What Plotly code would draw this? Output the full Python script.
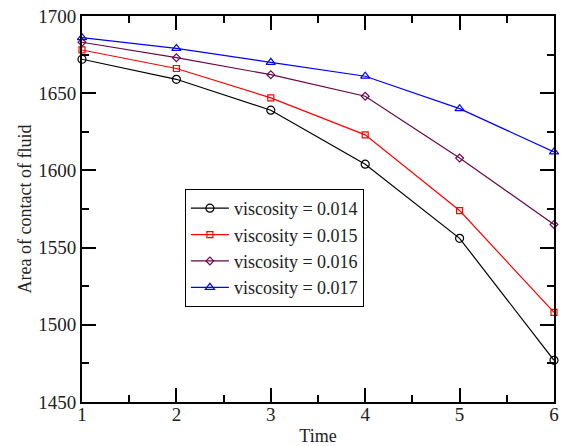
import plotly.graph_objects as go

time = [1, 2, 3, 4, 5, 6]
v014 = [1672, 1659, 1639, 1604, 1556, 1477]
v015 = [1678, 1666, 1647, 1623, 1574, 1508]
v016 = [1683, 1673, 1662, 1648, 1608, 1565]
v017 = [1686, 1679, 1670, 1661, 1640, 1612]
labels = ["viscosity = 0.014", "viscosity = 0.015", "viscosity = 0.016", "viscosity = 0.017"]

series = [
    (v014, "#000000", "circle-open", 8),
    (v015, "#ff0000", "square-open", 6),
    (v016, "#670748", "diamond-open", 6),
    (v017, "#0000ff", "triangle-up-open", 8),
]

fig = go.Figure()
for (vals, color, sym, size), name in zip(series, labels):
    fig.add_trace(go.Scatter(
        x=time, y=vals, name=name, mode="lines+markers",
        line=dict(color=color, width=1.2),
        marker=dict(symbol=sym, size=size, color=color, line=dict(color=color, width=1.2)),
        cliponaxis=False,
    ))

font = "Liberation Serif, Times New Roman, serif"
axis_common = dict(
    showline=True, linecolor="black", linewidth=2, mirror="ticks",
    ticks="inside", ticklen=14, tickwidth=1.5, tickcolor="black",
    showgrid=False, zeroline=False, automargin=False,
    tickfont=dict(family=font, size=19, color="#222"),
)
fig.update_xaxes(range=[1, 6], dtick=1, title=dict(text="Time", font=dict(family=font, size=18, color="#222"), standoff=7),
                 minor=dict(ticks="inside", ticklen=7, tickwidth=1.5, tickcolor="black", dtick=0.5),
                 ticklabelstandoff=-6,
                 **axis_common)
fig.update_yaxes(range=[1450, 1700], dtick=50, title=dict(text="Area of contact of fluid", font=dict(family=font, size=18, color="#222"), standoff=2),
                 minor=dict(ticks="inside", ticklen=7, tickwidth=1.5, tickcolor="black", dtick=25),
                 **axis_common)
fig.update_layout(
    width=564, height=446,
    margin=dict(l=82, r=10, t=16, b=44),
    paper_bgcolor="white", plot_bgcolor="white",
    font=dict(family=font, color="#222"),
    legend=dict(x=0.218, y=0.552, xanchor="left", yanchor="top",
                bordercolor="black", borderwidth=1, bgcolor="white",
                font=dict(family=font, size=18, color="#222"),
                tracegroupgap=0, itemwidth=38),
    showlegend=True,
)
fig.write_html("out.html", config={"displayModeBar": False},
               post_script="document.body.style.margin='0px';document.body.style.overflow='hidden';")
